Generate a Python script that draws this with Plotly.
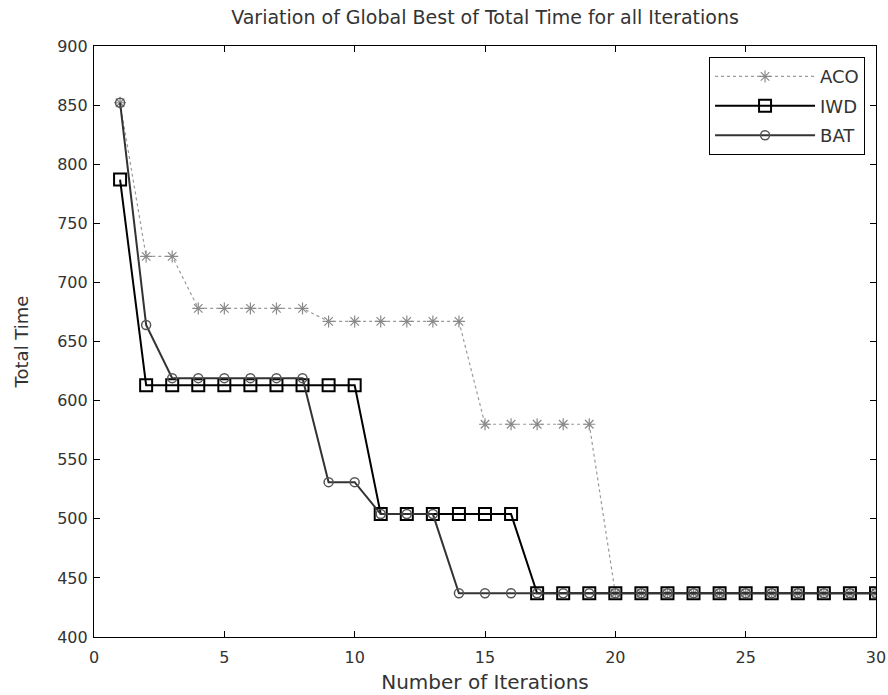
import plotly.graph_objects as go

iterations = list(range(1, 31))
aco = [852, 722, 722, 678, 678, 678, 678, 678, 667, 667, 667, 667, 667, 667,
       580, 580, 580, 580, 580] + [437] * 11
iwd = [787] + [613] * 9 + [504] * 6 + [437] * 14
bat = [852, 664, 619, 619, 619, 619, 619, 619, 531, 531, 504, 504, 504] + [437] * 17

x_ticks = [0, 5, 10, 15, 20, 25, 30]
y_ticks = [400, 450, 500, 550, 600, 650, 700, 750, 800, 850, 900]

FONT = "DejaVu Sans"
TXT = "#333333"

fig = go.Figure()
fig.add_trace(go.Scatter(
    x=iterations, y=aco, name="ACO", mode="lines+markers", legendgroup="a",
    line=dict(color="#9a9a9a", width=1.2, dash="dot"),
    marker=dict(symbol="asterisk-open", size=10, color="#8a8a8a",
                line=dict(color="#8a8a8a", width=1.2)),
))
fig.add_trace(go.Scatter(
    x=iterations, y=iwd, name="IWD", mode="lines+markers", legendgroup="b",
    line=dict(color="#000000", width=2),
    marker=dict(symbol="square-open", size=12, color="#000000",
                line=dict(color="#000000", width=2)),
))
fig.add_trace(go.Scatter(
    x=iterations, y=bat, name="BAT", mode="lines+markers", legendgroup="c",
    line=dict(color="#333333", width=2),
    marker=dict(symbol="circle-open", size=9, color="#555555",
                line=dict(color="#555555", width=1.5)),
))

axis_common = dict(
    showline=True, linecolor="black", linewidth=1.2, mirror="ticks",
    ticks="inside", ticklen=6, tickcolor="black",
    showgrid=False, zeroline=False, automargin=False,
    tickfont=dict(family=FONT, size=16, color=TXT),
)

fig.update_layout(
    width=888, height=695,
    margin=dict(l=94, r=12, t=46, b=58),
    paper_bgcolor="white", plot_bgcolor="white",
    title=dict(text="Variation of Global Best of Total Time for all Iterations",
               x=0.5, xanchor="center", xref="paper",
               y=1 - 17 / 695, yanchor="middle", yref="container", automargin=False,
               font=dict(family=FONT, size=19, color=TXT)),
    xaxis=dict(range=[0, 30], tickvals=x_ticks, ticklabelstandoff=6,
               title=dict(text="Number of Iterations", standoff=8,
                          font=dict(family=FONT, size=20, color=TXT)),
               **axis_common),
    yaxis=dict(range=[400, 900], tickvals=y_ticks, ticklabelstandoff=2,
               title=dict(text="Total Time", standoff=23,
                          font=dict(family=FONT, size=18, color=TXT)),
               **axis_common),
    legend=dict(x=0.986, y=0.981, xref="paper", yref="paper",
                xanchor="right", yanchor="top",
                bgcolor="white", bordercolor="black", borderwidth=1,
                font=dict(family=FONT, size=18, color=TXT),
                tracegroupgap=3, itemwidth=100),
    showlegend=True,
)

fig.write_html("out.html", config={"displayModeBar": False},
               post_script="document.body.style.margin='0';")
